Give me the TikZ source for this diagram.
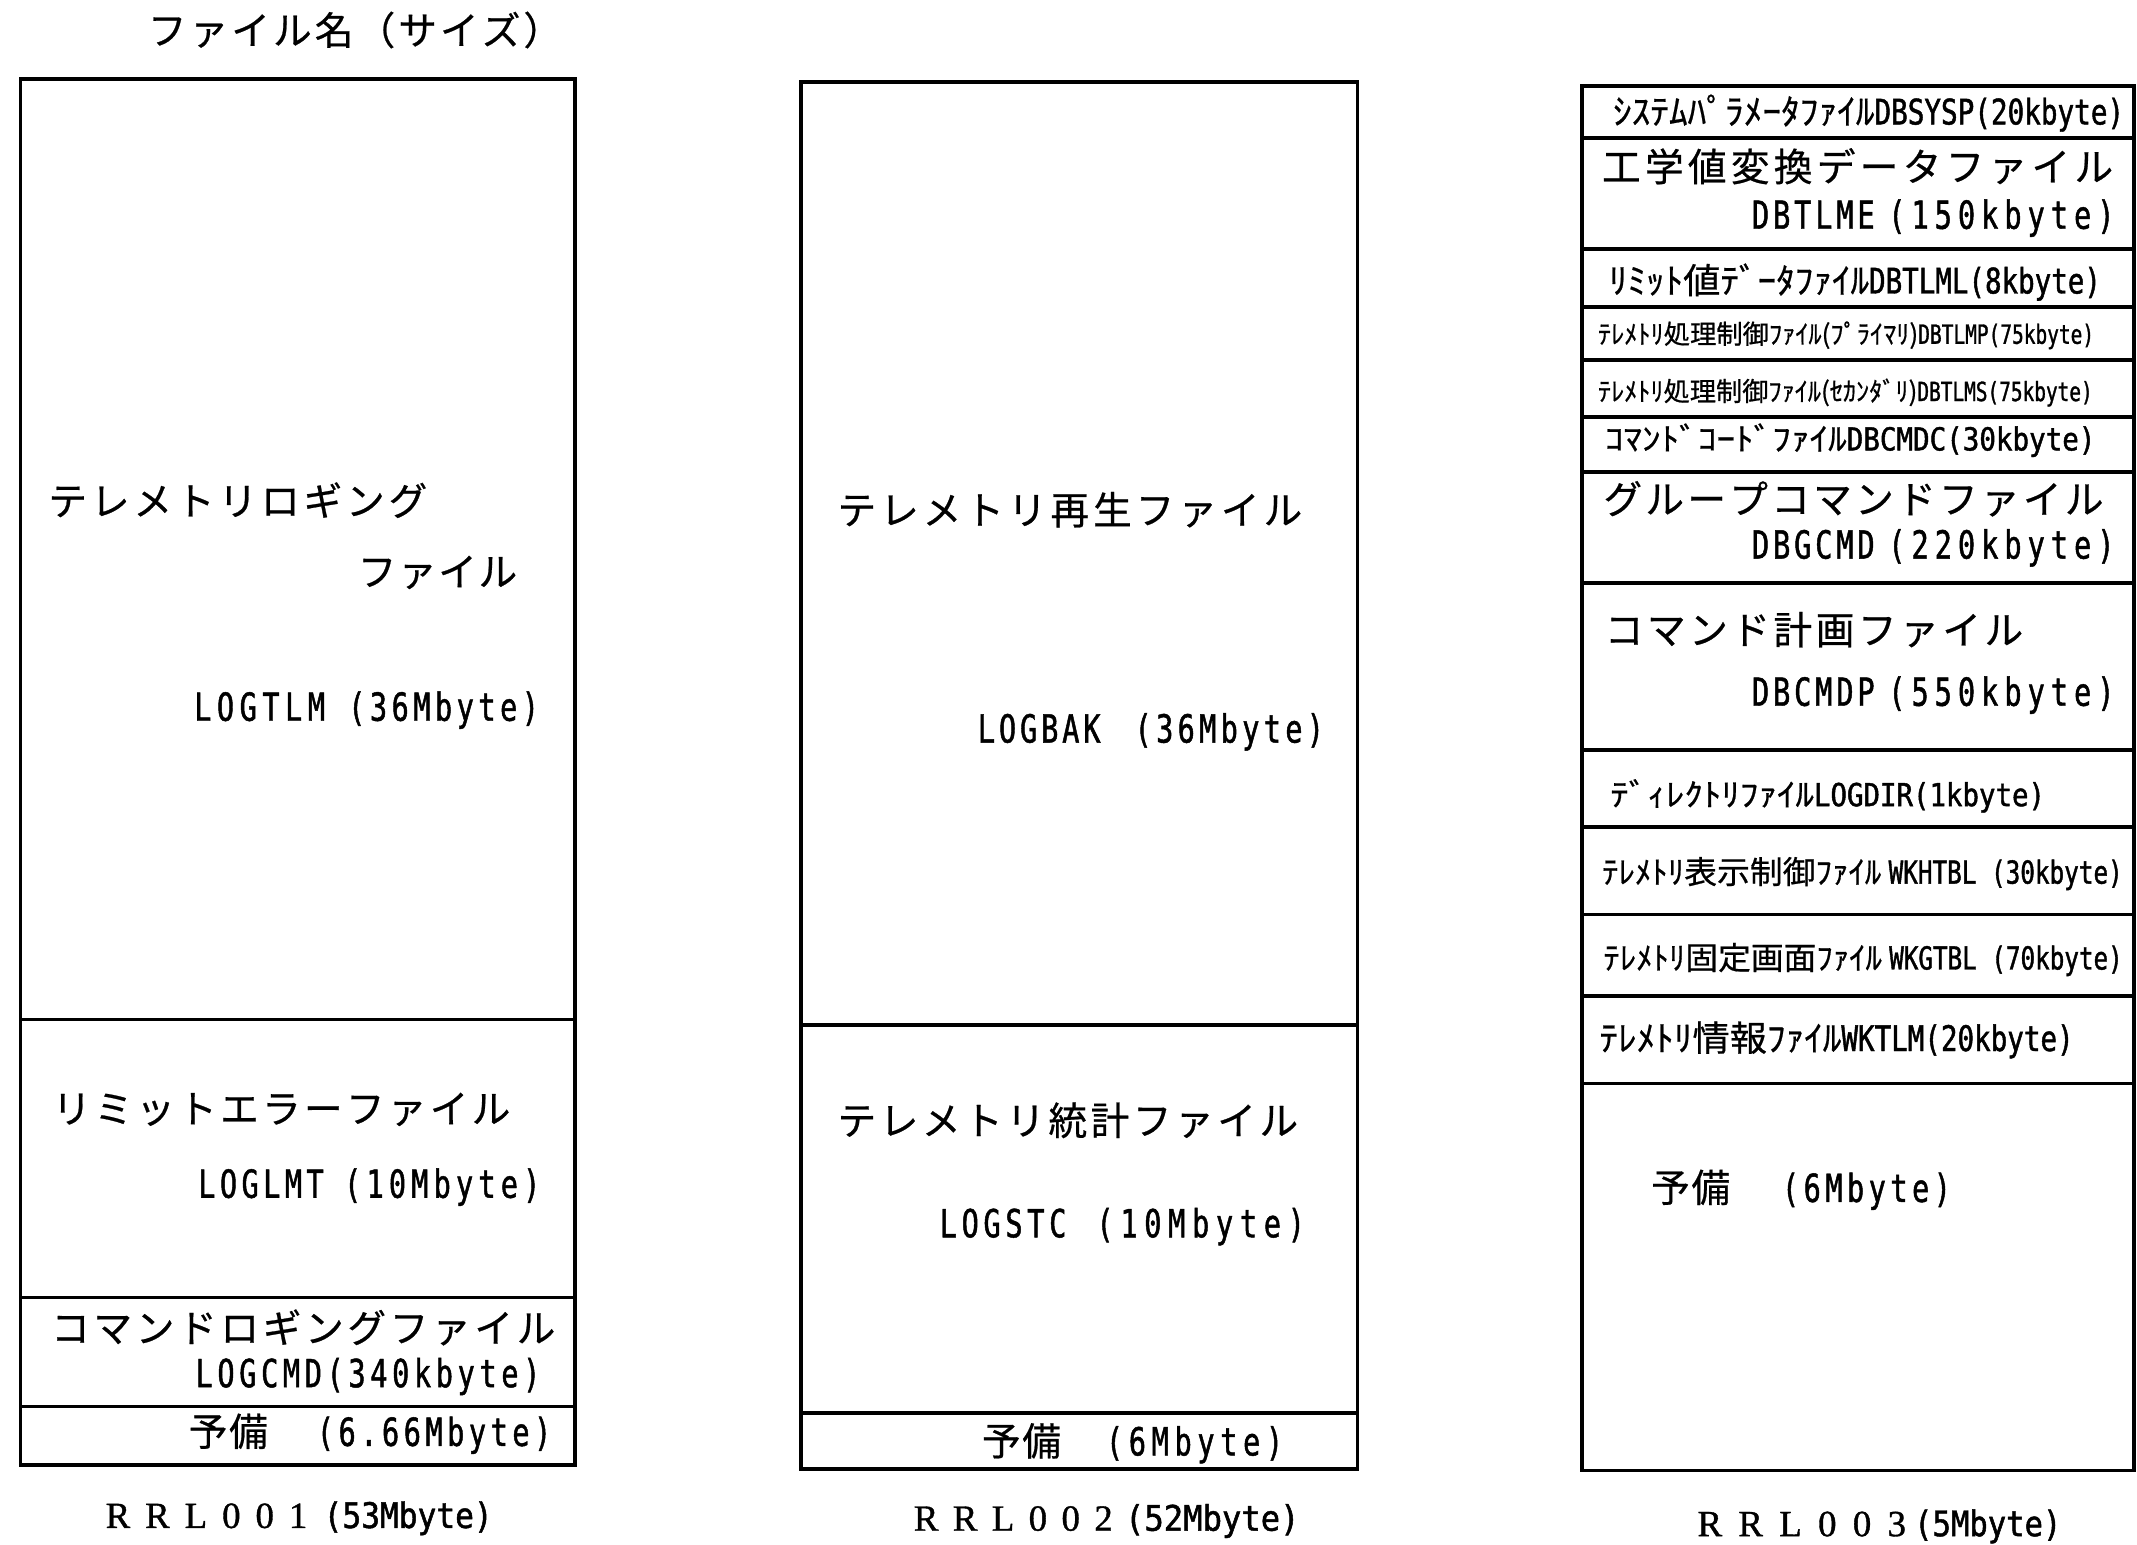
\documentclass[tikz,border=0pt]{standalone}
\usepackage{fontspec}
\usepackage{graphicx}
\setmainfont{Noto Sans CJK JP}[FakeBold=0.6]
\newfontfamily\latf{DejaVu Sans Mono}[FakeStretch=0.74,FakeBold=1.2]
\newfontfamily\rrlf{Liberation Serif}[FakeBold=1]
\newlength\pxu
\setlength\pxu{0.013629cm}
\let\spreadEnd\relax
\def\spreadtxt#1{\spreadA#1\spreadEnd}
\def\spreadA#1{\ifx#1\spreadEnd\else#1\expandafter\spreadB\fi}
\def\spreadB#1{\ifx#1\spreadEnd\else\hfill#1\expandafter\spreadB\fi}
\newcommand\spr[2]{\hbox to #1\pxu{\spreadtxt{#2}}}
\newcommand\fitw[2]{\resizebox{#1\pxu}{\height}{#2}}
\newcommand\latpair[5]{\hbox to #1\pxu{\latf\spr{#2}{#3}\hfill\spr{#4}{#5}}}
\newcommand\jpair[5]{\hbox to #1\pxu{\spr{#2}{#3}\hfill{\latf\spr{#4}{#5}}}}
\newcommand\cappair[5]{\hbox to #1\pxu{{\rrlf\fontsize{10.5}{12}\selectfont\spr{#2}{#3}}\hfill\fitw{#4}{\latf #5}}}
\begin{document}
\begin{tikzpicture}[x=0.013629cm,y=-0.013629cm,
  frame/.style={line width=1.1pt},
  lab/.style={inner sep=0pt,anchor=west,font=\fontsize{11}{13}\selectfont},
  ft/.style={lab,font=\fontsize{10}{12}\selectfont},
  md/.style={lab,font=\fontsize{9}{11}\selectfont},
  sm/.style={lab,font=\fontsize{7.5}{9}\selectfont}]
\fill[white] (0,0) rectangle (1568,1133);
\useasboundingbox (0,0) rectangle (1568,1133);

% title
\node[lab] (title) at (108,22) {\spr{304}{ファイル名（サイズ）}};

% ---------- RRL001 ----------
\draw[frame] (15,58) rectangle (422,1075);
\draw[frame] (15,748) -- (422,748);
\draw[frame] (15,952) -- (422,952);
\draw[frame] (15,1032) -- (422,1032);
\node[lab] (a1) at (35,367) {\spr{278}{テレメトリロギング}};
\node[lab] (a2) at (262,420) {\spr{117}{ファイル}};
\node[lab] (a3) at (142,521) {\latpair{253}{96}{LOGTLM}{140}{(36Mbyte)}};
\node[lab] (a4) at (38,814) {\spr{336}{リミットエラーファイル}};
\node[lab] (a5) at (145,871) {\latpair{251}{92}{LOGLMT}{144}{(10Mbyte)}};
\node[lab] (a6) at (37,974) {\spr{370}{コマンドロギングファイル}};
\node[lab] (a7) at (143,1010) {{\latf\spr{253}{LOGCMD(340kbyte)}}};
\node[lab] (a8) at (138,1052) {\jpair{266}{58}{予備}{172}{(6.66Mbyte)}};
\node[ft] (cap1) at (77,1114) {\cappair{284}{148}{RRL001}{124}{(53Mbyte)}};

% ---------- RRL002 ----------
\draw[frame] (588,60) rectangle (996,1078);
\draw[frame] (588,752) -- (996,752);
\draw[frame] (588,1037) -- (996,1037);
\node[lab] (b1) at (614,374) {\spr{341}{テレメトリ再生ファイル}};
\node[lab] (b2) at (717,537) {\latpair{254}{90}{LOGBAK}{139}{(36Mbyte)}};
\node[lab] (b3) at (614,822) {\spr{338}{テレメトリ統計ファイル}};
\node[lab] (b4) at (689,900) {\latpair{268}{93}{LOGSTC}{153}{(10Mbyte)}};
\node[lab] (b5) at (720,1059) {\jpair{221}{58}{予備}{130}{(6Mbyte)}};
\node[ft] (cap2) at (670,1116) {\cappair{283}{146}{RRL002}{128}{(52Mbyte)}};

% ---------- RRL003 ----------
\draw[frame] (1161,63) rectangle (1566,1079);
\foreach \yy in {101,183,225,264,306,346,428,550,607,671,731,795}
  \draw[frame] (1161,\yy) -- (1566,\yy);
\node[ft] (c1) at (1183,83) {\fitw{375}{ｼｽﾃﾑﾊﾟﾗﾒｰﾀﾌｧｲﾙ{\latf DBSYSP(20kbyte)}}};
\node[lab] (c2) at (1175,122) {\spr{375}{工学値変換データファイル}};
\node[lab] (c3) at (1285,160) {\latpair{266}{90}{DBTLME}{166}{(150kbyte)}};
\node[ft] (c4) at (1180,207) {\fitw{361}{ﾘﾐｯﾄ値ﾃﾞｰﾀﾌｧｲﾙ{\latf DBTLML(8kbyte)}}};
\node[sm] (c5) at (1172,246) {\fitw{364}{ﾃﾚﾒﾄﾘ処理制御ﾌｧｲﾙ(ﾌﾟﾗｲﾏﾘ){\latf DBTLMP(75kbyte)}}};
\node[sm] (c6) at (1172,288) {\fitw{363}{ﾃﾚﾒﾄﾘ処理制御ﾌｧｲﾙ(ｾｶﾝﾀﾞﾘ){\latf DBTLMS(75kbyte)}}};
\node[md] (c7) at (1177,323) {\fitw{360}{ｺﾏﾝﾄﾞｺｰﾄﾞﾌｧｲﾙ{\latf DBCMDC(30kbyte)}}};
\node[lab] (c8) at (1176,366) {\spr{367}{グループコマンドファイル}};
\node[lab] (c9) at (1285,402) {\latpair{266}{90}{DBGCMD}{166}{(220kbyte)}};
\node[lab] (c10) at (1177,462) {\spr{307}{コマンド計画ファイル}};
\node[lab] (c11) at (1285,510) {\latpair{266}{90}{DBCMDP}{166}{(550kbyte)}};
\node[md] (c12) at (1181,584) {\fitw{319}{ﾃﾞｨﾚｸﾄﾘﾌｧｲﾙ{\latf LOGDIR(1kbyte)}}};
\node[md] (c13) at (1175,641) {\fitw{382}{ﾃﾚﾒﾄﾘ表示制御ﾌｧｲﾙ {\latf WKHTBL (30kbyte)}}};
\node[md] (c14) at (1176,704) {\fitw{381}{ﾃﾚﾒﾄﾘ固定画面ﾌｧｲﾙ {\latf WKGTBL (70kbyte)}}};
\node[ft] (c15) at (1173,763) {\fitw{348}{ﾃﾚﾒﾄﾘ情報ﾌｧｲﾙ{\latf WKTLM(20kbyte)}}};
\node[lab] (c16) at (1211,873) {\jpair{220}{58}{予備}{124}{(6Mbyte)}};
\node[ft] (cap3) at (1245,1120) {\cappair{267}{153}{RRL003}{108}{(5Mbyte)}};
\end{tikzpicture}
\end{document}
